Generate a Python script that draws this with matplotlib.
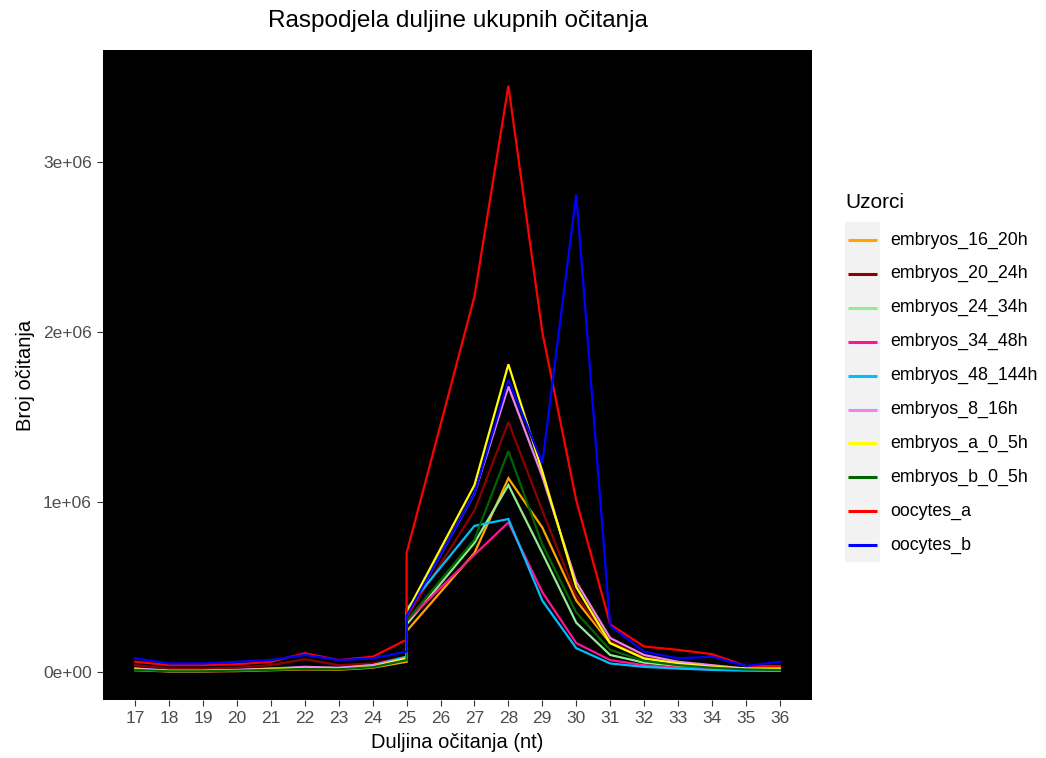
import matplotlib
matplotlib.use("Agg")
import matplotlib.pyplot as plt
from matplotlib.patches import Rectangle

plt.rcParams["font.family"] = ["Liberation Sans", "DejaVu Sans"]

# Read lengths; length 25 appears twice in the source data (vertical jump), 26 has no point
lengths = [17, 18, 19, 20, 21, 22, 23, 24, 25, 25, 27, 28, 29, 30, 31, 32, 33, 34, 35, 36]
x_ticks = list(range(17, 37))

samples = ["embryos_16_20h", "embryos_20_24h", "embryos_24_34h", "embryos_34_48h",
           "embryos_48_144h", "embryos_8_16h", "embryos_a_0_5h", "embryos_b_0_5h",
           "oocytes_a", "oocytes_b"]
colors = ["orange", "darkred", "lightgreen", "deeppink", "deepskyblue",
          "violet", "yellow", "darkgreen", "red", "blue"]

# counts in millions of reads
embryos_16_20h = [0.010, 0.003, 0.003, 0.005, 0.010, 0.015, 0.013, 0.025, 0.060, 0.240,
                  0.700, 1.140, 0.850, 0.420, 0.170, 0.080, 0.050, 0.030, 0.020, 0.015]
embryos_20_24h = [0.040, 0.020, 0.020, 0.025, 0.040, 0.075, 0.040, 0.050, 0.090, 0.320,
                  0.950, 1.470, 0.950, 0.450, 0.180, 0.085, 0.050, 0.030, 0.020, 0.020]
embryos_24_34h = [0.015, 0.005, 0.005, 0.008, 0.015, 0.020, 0.018, 0.030, 0.070, 0.280,
                  0.760, 1.100, 0.700, 0.290, 0.100, 0.055, 0.035, 0.020, 0.012, 0.010]
embryos_34_48h = [0.015, 0.004, 0.004, 0.008, 0.015, 0.020, 0.018, 0.030, 0.070, 0.300,
                  0.690, 0.880, 0.470, 0.170, 0.070, 0.040, 0.025, 0.015, 0.010, 0.008]
embryos_48_144h = [0.020, 0.006, 0.006, 0.010, 0.020, 0.025, 0.022, 0.040, 0.090, 0.370,
                   0.860, 0.900, 0.420, 0.140, 0.050, 0.030, 0.020, 0.012, 0.008, 0.006]
embryos_8_16h = [0.020, 0.008, 0.008, 0.012, 0.020, 0.030, 0.025, 0.040, 0.080, 0.330,
                 1.050, 1.680, 1.150, 0.530, 0.200, 0.100, 0.060, 0.040, 0.020, 0.020]
embryos_a_0_5h = [0.015, 0.005, 0.005, 0.010, 0.015, 0.020, 0.018, 0.030, 0.080, 0.350,
                  1.100, 1.810, 1.180, 0.500, 0.170, 0.080, 0.050, 0.030, 0.020, 0.020]
embryos_b_0_5h = [0.012, 0.004, 0.004, 0.008, 0.012, 0.018, 0.016, 0.028, 0.070, 0.300,
                  0.780, 1.300, 0.750, 0.350, 0.130, 0.065, 0.040, 0.025, 0.015, 0.012]
oocytes_a = [0.060, 0.040, 0.040, 0.045, 0.060, 0.110, 0.070, 0.090, 0.190, 0.700,
             2.210, 3.450, 2.000, 1.010, 0.280, 0.150, 0.130, 0.105, 0.035, 0.035]
oocytes_b = [0.080, 0.050, 0.050, 0.060, 0.070, 0.100, 0.070, 0.080, 0.120, 0.330,
             1.050, 1.720, 1.230, 2.810, 0.270, 0.120, 0.080, 0.090, 0.035, 0.060]

series = [embryos_16_20h, embryos_20_24h, embryos_24_34h, embryos_34_48h, embryos_48_144h,
          embryos_8_16h, embryos_a_0_5h, embryos_b_0_5h, oocytes_a, oocytes_b]

y_ticks = [0, 1e6, 2e6, 3e6]
y_labels = ["0e+00", "1e+06", "2e+06", "3e+06"]

W, H = 1046, 758
fig = plt.figure(figsize=(W / 100, H / 100), dpi=100)
fig.patch.set_facecolor("white")

# panel in pixel coordinates: x 103..812, y 50..700
ax = fig.add_axes([103 / W, 1 - 700 / H, (812 - 103) / W, (700 - 50) / H])
ax.set_facecolor("black")

for name, col, vals in zip(samples, colors, series):
    ax.plot(lengths, [v * 1e6 for v in vals], color=col, lw=1.6, label=name,
            solid_joinstyle="miter")

ax.set_xlim(16.05, 36.95)
ax.set_ylim(-0.165e6, 3.66e6)
ax.set_xticks(x_ticks)
ax.set_xticklabels([str(t) for t in x_ticks])
ax.set_yticks(y_ticks)
ax.set_yticklabels(y_labels)
for s in ax.spines.values():
    s.set_visible(False)
ax.tick_params(axis="both", length=4, width=0.8, color="#333333",
               labelcolor="#4d4d4d", labelsize=12.5, pad=4)

ax.set_xlabel("Duljina očitanja (nt)", fontsize=14.5, color="black", labelpad=5)
ax.set_ylabel("Broj očitanja", fontsize=14.5, color="black", labelpad=6)
fig.text(457.5 / W, 1 - 21 / H, "Raspodjela duljine ukupnih očitanja",
         ha="center", va="center", fontsize=17.5)

# ggplot-style legend drawn by hand
lax = fig.add_axes([0, 0, 1, 1])
lax.set_xlim(0, W)
lax.set_ylim(H, 0)
lax.axis("off")
lax.text(845, 202, "Uzorci", fontsize=15, ha="left", va="center")
lax.add_patch(Rectangle((845, 222), 35, 340, facecolor="#f2f2f2", edgecolor="none"))
for i, (name, col) in enumerate(zip(samples, colors)):
    yy = 240 + i * 33.9
    lax.plot([848, 877], [yy, yy], color=col, lw=2.2, solid_capstyle="butt")
    lax.text(890, yy, name, fontsize=12.8, ha="left", va="center", color="black")

fig.savefig("out.png", dpi=100)
